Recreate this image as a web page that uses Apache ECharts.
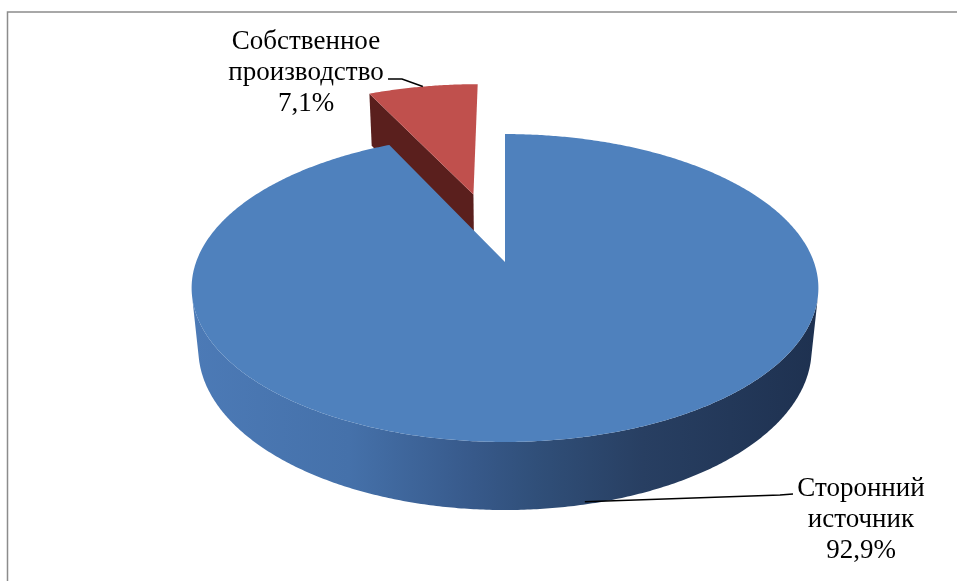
<!DOCTYPE html>
<html>
<head>
<meta charset="utf-8">
<script src="https://cdn.jsdelivr.net/npm/echarts@6/dist/echarts.min.js"></script>
<style>
html,body{margin:0;padding:0;background:#fff;}
#chart{width:957px;height:581px;}
</style>
</head>
<body>
<div id="chart"></div>
<script>
// ---- data ----
const categories = ['Сторонний источник', 'Собственное производство'];
const values = [92.9, 7.1];
const valueLabels = ['92,9%', '7,1%'];
const labelNameLines = [['Сторонний', 'источник'], ['Собственное', 'производство']];
const explode = [0, 0.5];

// ---- styles / layout ----
const topColors = ['#4F81BD', '#C0504D'];
const cutColors = ['#2C4A70', '#5A1F1D'];
const sideStops = [
  [0, '#4C7AB6'], [0.25, '#4571AA'], [0.45, '#37598A'],
  [0.55, '#304F79'], [0.72, '#283F62'], [1, '#1E3150']
];
// perspective camera: elevation angle, distance (in radii), focal length (px), height (in radii)
const VIEW = {cx: 505, cy: 262, elev: 28.96, dist: 5.18, f: 1600, height: 0.229};
const LABEL = [
  {x: 861, y: 520, elbow: [[-81, -25], [-68, -26]], anchorT: 0.96},
  {x: 306, y: 73, elbow: [[96, 6], [82, 6]], anchorT: 0}
];
const FONT = '27px "Liberation Serif", "Times New Roman", serif';

const SA = Math.sin(VIEW.elev * Math.PI / 180), CA = Math.cos(VIEW.elev * Math.PI / 180);
function proj(X, Z, t) {
  const Y = -VIEW.height * t;
  const yv = Y * CA + Z * SA;
  const depth = VIEW.dist + Z * CA - Y * SA;
  return [VIEW.cx + VIEW.f * X / depth, VIEW.cy - VIEW.f * yv / depth];
}
const camZ = -VIEW.dist * CA;

const total = values.reduce((p, c) => p + c, 0);

function renderItem(params, api) {
  const idx = params.dataIndex;
  const val = api.value(0);
  let start = 0;
  for (let i = 0; i < idx; i++) start += values[i];
  const a0 = start / total * Math.PI * 2;
  const a1 = (start + val) / total * Math.PI * 2;
  const mid = (a0 + a1) / 2;
  const e = explode[idx];
  const dX = e * Math.sin(mid), dZ = e * Math.cos(mid);
  const pt = (r, th, t) => proj(dX + r * Math.sin(th), dZ + r * Math.cos(th), t);
  const n = Math.max(8, Math.ceil((a1 - a0) / (Math.PI / 360)));
  const children = [];

  // outer side (visible part)
  const topArc = [], botArc = [];
  for (let i = 0; i <= n; i++) {
    const th = a0 + (a1 - a0) * i / n;
    const X = dX + Math.sin(th), Z = dZ + Math.cos(th);
    const vis = -Math.sin(th) * X + Math.cos(th) * (camZ - Z);
    if (vis > 0) { topArc.push(pt(1, th, 0)); botArc.push(pt(1, th, 1)); }
  }
  if (topArc.length > 1) {
    children.push({
      type: 'polygon', z2: 1,
      shape: {points: topArc.concat(botArc.reverse())},
      style: {fill: new echarts.graphic.LinearGradient(0, 0, 1, 0,
        sideStops.map(s => ({offset: s[0], color: s[1]}))), stroke: null}
    });
  }
  // cut faces
  const faces = [
    {th: a0, nx: -Math.cos(a0), nz: Math.sin(a0)},
    {th: a1, nx: Math.cos(a1), nz: -Math.sin(a1)}
  ];
  faces.forEach(fc => {
    const vis = fc.nx * (0 - dX) + fc.nz * (camZ - dZ);
    if (vis > 0.2) {
      children.push({
        type: 'polygon', z2: 2,
        shape: {points: [pt(0, fc.th, 0), pt(1, fc.th, 0), pt(1, fc.th, 1), pt(0, fc.th, 1)]},
        style: {fill: cutColors[idx], stroke: null}
      });
    }
  });
  // top face
  const topPts = [pt(0, a0, 0)];
  for (let i = 0; i <= n; i++) topPts.push(pt(1, a0 + (a1 - a0) * i / n, 0));
  children.push({
    type: 'polygon', z2: 3,
    shape: {points: topPts},
    style: {fill: topColors[idx], stroke: null}
  });
  // leader line + label
  const L = LABEL[idx];
  const anchor = pt(1, mid, L.anchorT);
  children.push({
    type: 'polyline', z2: 5,
    shape: {points: [anchor].concat(L.elbow.map(p => [L.x + p[0], L.y + p[1]]))},
    style: {stroke: '#000', lineWidth: 1.5, fill: null}
  });
  children.push({
    type: 'text', z2: 6,
    style: {
      text: labelNameLines[idx].concat([valueLabels[idx]]).join('\n'),
      x: L.x, y: L.y, align: 'center', verticalAlign: 'middle',
      font: FONT, lineHeight: 31, fill: '#000'
    }
  });
  return {type: 'group', children: children};
}

const chart = echarts.init(document.getElementById('chart'), null, {renderer: 'canvas'});
chart.setOption({
  animation: false,
  backgroundColor: '#fff',
  graphic: [{
    type: 'polyline',
    shape: {points: [[7.5, 581], [7.5, 12], [957, 12]]},
    style: {stroke: '#8C8C8C', lineWidth: 1.5, fill: null}
  }],
  series: [{
    type: 'custom',
    coordinateSystem: 'none',
    renderItem: renderItem,
    data: values.map((v, i) => ({name: categories[i], value: [v]}))
  }]
});
</script>
</body>
</html>
